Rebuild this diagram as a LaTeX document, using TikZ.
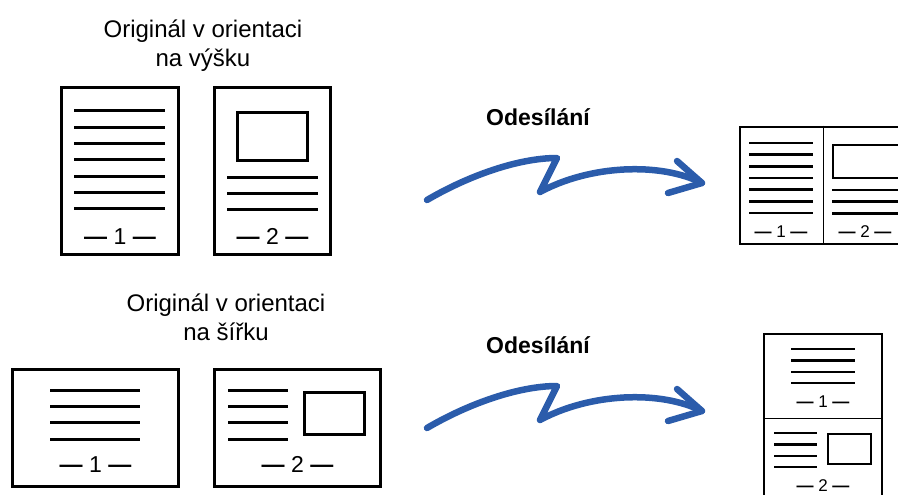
\documentclass[tikz,border=0pt]{standalone}
\usepackage{fontspec}
\setmainfont{Liberation Sans}
\usetikzlibrary{positioning}
\definecolor{sendblue}{HTML}{2B5CAB}
\newcommand{\pgdash}{{\bfseries —}}

\begin{document}
\begin{tikzpicture}[x=1pt, y=-1pt,
  caption/.style={align=center, inner sep=0pt, anchor=north, font=\fontsize{24}{29}\selectfont},
  sendlabel/.style={inner sep=0pt, anchor=base, font=\bfseries\fontsize{23}{26}\selectfont},
  sheet/.style={draw, line width=3pt, inner sep=0pt},
  result/.style={draw, line width=2.5pt, inner sep=0pt},
  pagenum/.style={inner sep=0pt, anchor=base, font=\fontsize{23}{26}\selectfont},
  smallnum/.style={inner sep=0pt, anchor=base, font=\fontsize{17}{19}\selectfont},
  textline/.style={line width=3pt},
  smallline/.style={line width=2.5pt},
  sendarrow/.style={line width=6.5pt, draw=sendblue, line cap=round, line join=round}
]
\useasboundingbox (0,0) rectangle (898,495);
\clip (0,0) rectangle (898,495);

% originals, portrait
\node[caption] (capv) at (203,20) {Originál v orientaci\\na výšku};
\node[sheet, minimum width=117pt, minimum height=167pt] (pv1) at (120,171) {};
\node[sheet, minimum width=116pt, minimum height=167pt] (pv2) at (272.5,171) {};
\foreach \i in {0,...,6}
  \draw[textline] (74,{111+16.3*\i}) -- (165,{111+16.3*\i});
\draw[textline] (237.5,112.5) rectangle (307.5,160.5);
\foreach \i in {0,...,2}
  \draw[textline] (227,{177+16*\i}) -- (318,{177+16*\i});
\node[pagenum] (nv1) at (120,244) {\pgdash{} 1 \pgdash};
\node[pagenum] (nv2) at (272.5,244) {\pgdash{} 2 \pgdash};

% originals, landscape
\node[caption] (capl) at (226,294) {Originál v orientaci\\na šířku};
\node[sheet, minimum width=166pt, minimum height=117pt] (pl1) at (95.5,428) {};
\node[sheet, minimum width=166pt, minimum height=117pt] (pl2) at (297.5,428) {};
\foreach \i in {0,...,3} {
  \draw[textline] (50,{390+16.4*\i}) -- (140,{390+16.4*\i});
  \draw[textline] (228,{390+16.4*\i}) -- (288,{390+16.4*\i});
}
\draw[textline] (304.5,392.5) rectangle (364.5,434.5);
\node[pagenum] (nl1) at (95.5,472) {\pgdash{} 1 \pgdash};
\node[pagenum] (nl2) at (297.5,472) {\pgdash{} 2 \pgdash};

% sending arrows
\foreach \dy/\lbl in {0/sa, 228/sb} {
  \begin{scope}[yshift=-\dy pt]
    \node[sendlabel] (\lbl) at (538,125) {Odesílání};
    \coordinate (\lbl-start) at (427,200);
    \coordinate (\lbl-peak) at (557,158);
    \coordinate (\lbl-dip) at (540,192);
    \coordinate (\lbl-tip) at (702,183);
    \coordinate (\lbl-up) at (677,161);
    \coordinate (\lbl-down) at (668,193);
    \draw[sendarrow] (\lbl-start) .. controls (468,176) and (518,158) .. (\lbl-peak)
      -- (\lbl-dip) .. controls (590,165) and (660,162) .. (\lbl-tip);
    \draw[sendarrow] (\lbl-up) -- (\lbl-tip) -- (\lbl-down);
  \end{scope}
}

% result, two pages side by side
\node[result, minimum width=166pt, minimum height=117pt] (r1) at (823,185.5) {};
\draw[line width=1pt] (r1.north) -- (r1.south);
\foreach \i in {0,...,6}
  \draw[smallline] (749,{143+11.67*\i}) -- (813,{143+11.67*\i});
\draw[smallline] (833,145) rectangle (902,178);
\foreach \i in {0,...,2}
  \draw[smallline] (832,{190+11.67*\i}) -- (902,{190+11.67*\i});
\node[smallnum] (nr1) at (781,237) {\pgdash{} 1 \pgdash};
\node[smallnum] (nr2) at (865,237) {\pgdash{} 2 \pgdash};

% result, two pages one above the other
\node[result, minimum width=118pt, minimum height=168pt] (r2) at (823,418) {};
\draw[line width=1pt] (r2.west) -- (r2.east);
\foreach \i in {0,...,3} {
  \draw[smallline] (791,{349+11.4*\i}) -- (855,{349+11.4*\i});
  \draw[smallline] (774,{433+11.4*\i}) -- (817,{433+11.4*\i});
}
\draw[smallline] (828,434) rectangle (871,464);
\node[smallnum] (nr3) at (823,407) {\pgdash{} 1 \pgdash};
\node[smallnum] (nr4) at (823,491) {\pgdash{} 2 \pgdash};
\end{tikzpicture}
\end{document}
